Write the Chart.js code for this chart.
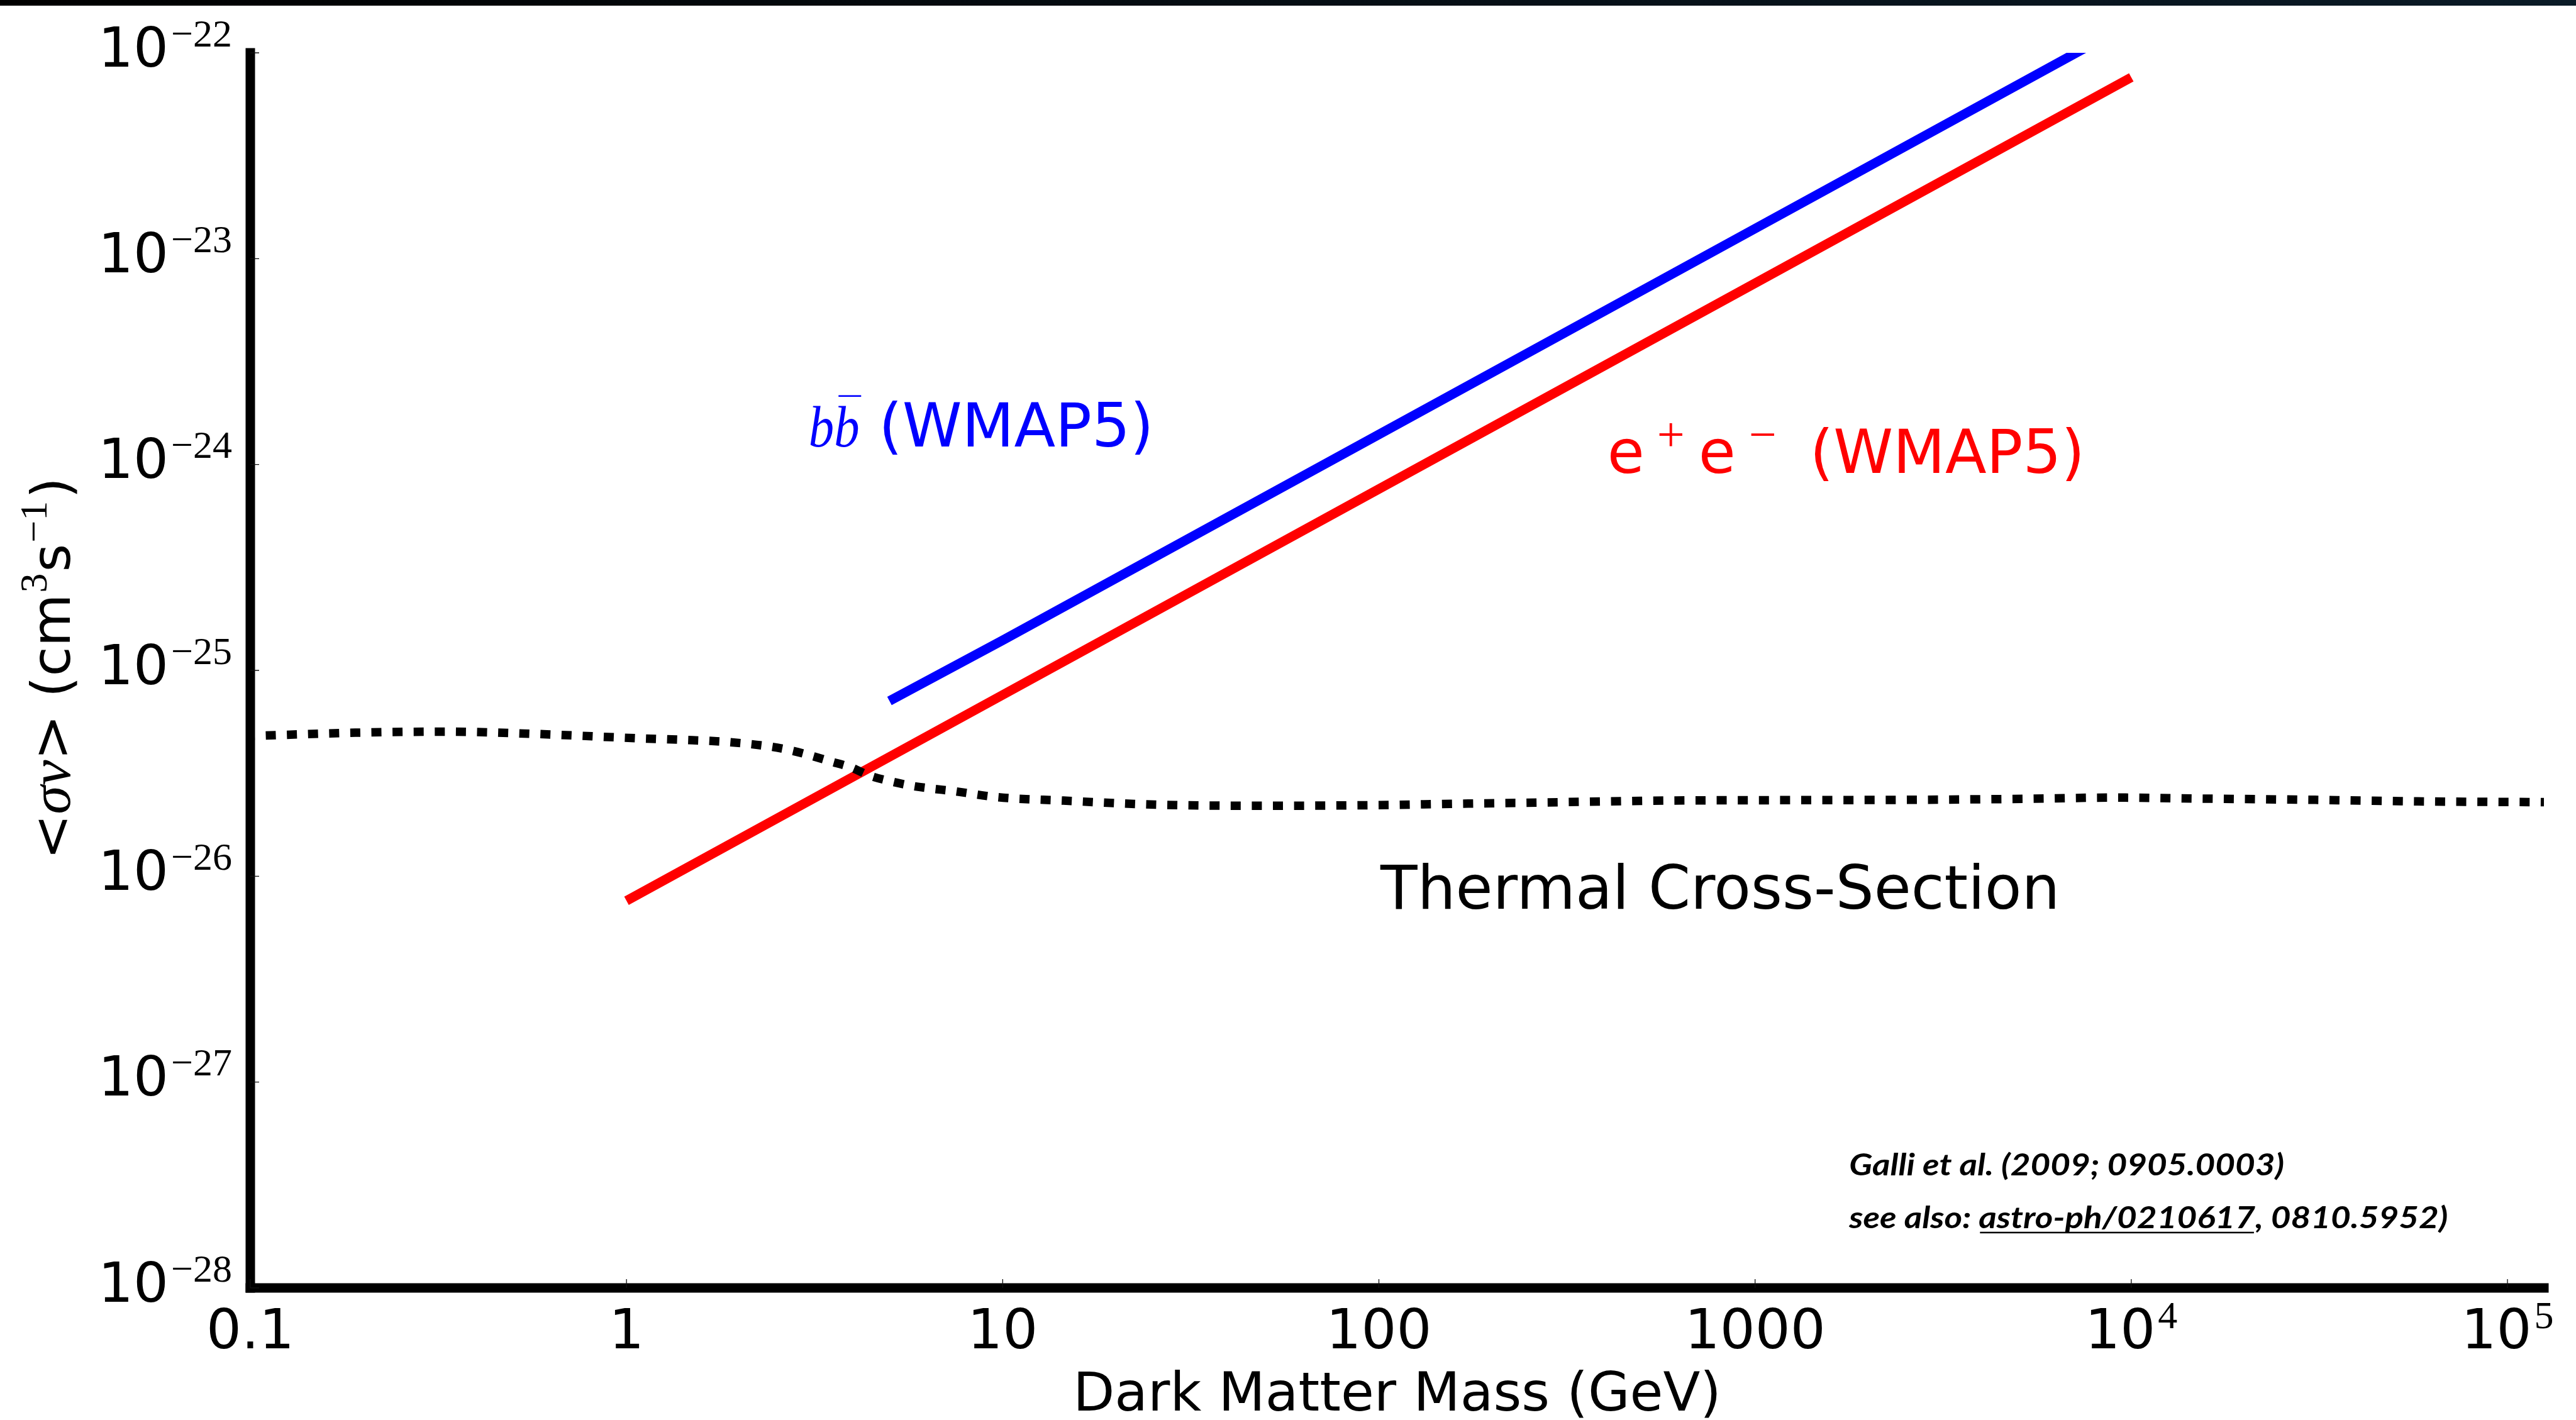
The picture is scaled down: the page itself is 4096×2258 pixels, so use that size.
<!DOCTYPE html>
<html>
<head>
<meta charset="utf-8">
<script src="https://cdn.jsdelivr.net/npm/chart.js@4/dist/chart.umd.min.js"></script>
<style>
  html, body { margin: 0; padding: 0; background: #fff; overflow: hidden; }
  canvas { display: block; }
</style>
</head>
<body>
<canvas id="c" width="4096" height="2258"></canvas>
<script>
// Annihilation cross-section limits from the CMB versus dark matter mass

// e+e- channel (WMAP5)
const eeMass  = [1, 10, 100, 1000, 10000];
const eeSigma = [7.6e-27, 7.6e-26, 7.6e-25, 7.6e-24, 7.6e-23];

// b b-bar channel (WMAP5)
const bbMass  = [5, 10, 100, 1000, 10000];
const bbSigma = [7.1e-26, 1.4e-25, 1.4e-24, 1.4e-23, 1.4e-22];

// thermal relic cross-section
const thermalMass  = [0.1, 0.19, 0.33, 0.56, 1.07, 1.4, 1.82, 2.38, 2.69, 3.05,
                      3.49, 3.96, 4.43, 5.0, 5.73, 6.54, 7.3, 9.7, 14.5, 24.8,
                      46, 87, 163, 306, 574, 950, 2500, 5500, 8800, 16400,
                      30800, 57700, 125000];
const thermalSigma = [4.80e-26, 4.98e-26, 5.04e-26, 4.92e-26, 4.68e-26, 4.60e-26, 4.50e-26, 4.28e-26, 4.11e-26, 3.88e-26,
                      3.61e-26, 3.37e-26, 3.08e-26, 2.90e-26, 2.75e-26, 2.66e-26, 2.60e-26, 2.42e-26, 2.33e-26, 2.23e-26,
                      2.20e-26, 2.21e-26, 2.25e-26, 2.29e-26, 2.33e-26, 2.34e-26, 2.35e-26, 2.38e-26, 2.41e-26, 2.38e-26,
                      2.35e-26, 2.31e-26, 2.29e-26];

// axis ticks ("base^exponent")
const xTickValues = [0.1, 1, 10, 100, 1000, 1e4, 1e5];
const xTickLabels = ['0.1', '1', '10', '100', '1000', '10^4', '10^5'];
const yTickValues = [1e-22, 1e-23, 1e-24, 1e-25, 1e-26, 1e-27, 1e-28];
const yTickLabels = ['10^\u221222', '10^\u221223', '10^\u221224', '10^\u221225', '10^\u221226', '10^\u221227', '10^\u221228'];

const SANS = '"DejaVu Sans"';
const SERIF = '"Liberation Serif"';

function toPoints(xs, ys) { return xs.map((v, i) => ({ x: v, y: ys[i] })); }

function runsWidth(ctx, runs) {
  let w = 0;
  runs.forEach(r => { ctx.font = r.font; w += (r.gap || 0) + ctx.measureText(r.text).width * (r.sx || 1); });
  return w;
}
function drawRuns(ctx, runs, x, y) {
  const pos = [];
  runs.forEach(r => {
    ctx.font = r.font;
    x += (r.gap || 0);
    const w = ctx.measureText(r.text).width * (r.sx || 1);
    ctx.save();
    ctx.translate(x, y - (r.rise || 0));
    ctx.scale(r.sx || 1, r.sy || 1);
    ctx.fillText(r.text, 0, 0);
    ctx.restore();
    pos.push([x, x + w]);
    x += w;
  });
  return pos;
}
function tickRuns(label) {
  const [base, exp] = label.split('^');
  const runs = [{ text: base, font: '88px ' + SANS }];
  if (exp) runs.push({ text: exp, font: '62px ' + SERIF, rise: 32, gap: 4 });
  return runs;
}

const decor = {
  id: 'decor',
  afterDatasetsDraw(chart) {
    const { ctx, chartArea: a, scales: { x, y } } = chart;
    ctx.save();
    // spines
    const sw = 15;
    ctx.fillStyle = '#000';
    ctx.fillRect(a.left - sw / 2, a.top - sw / 2, sw, a.bottom - a.top + sw);
    ctx.fillRect(a.left - sw / 2, a.bottom - sw / 2, a.right - a.left + sw, sw);
    // inward ticks
    ctx.strokeStyle = '#111';
    ctx.lineWidth = 1.3;
    ctx.beginPath();
    yTickValues.forEach(v => { const p = y.getPixelForValue(v); ctx.moveTo(a.left, p); ctx.lineTo(a.left + 14, p); });
    xTickValues.forEach(v => { const p = x.getPixelForValue(v); ctx.moveTo(p, a.bottom); ctx.lineTo(p, a.bottom - 14); });
    ctx.stroke();
    ctx.restore();
  },
  afterDraw(chart) {
    const { ctx, chartArea: a, scales: { x, y } } = chart;
    ctx.save();
    ctx.textBaseline = 'alphabetic';
    ctx.textAlign = 'left';

    // top band
    const g = ctx.createLinearGradient(0, 0, chart.width, 0);
    g.addColorStop(0, '#000000');
    g.addColorStop(1, '#0a1a26');
    ctx.fillStyle = g;
    ctx.fillRect(0, 0, chart.width, 9);

    ctx.fillStyle = '#000';
    // y tick labels
    yTickLabels.forEach((lab, i) => {
      const runs = tickRuns(lab);
      const w = runsWidth(ctx, runs);
      drawRuns(ctx, runs, a.left - 29 - w, y.getPixelForValue(yTickValues[i]) + 21.6);
    });
    // x tick labels
    xTickLabels.forEach((lab, i) => {
      const runs = tickRuns(lab);
      const w = runsWidth(ctx, runs);
      drawRuns(ctx, runs, x.getPixelForValue(xTickValues[i]) - w / 2, a.bottom + 96);
    });

    // x axis title
    const xt = [{ text: 'Dark Matter Mass (GeV)', font: '86px ' + SANS }];
    drawRuns(ctx, xt, (a.left + a.right) / 2 - runsWidth(ctx, xt) / 2, a.bottom + 195);

    // y axis title
    const S = 86;
    const yt = [
      { text: '<', font: S + 'px ' + SANS },
      { text: '\u03c3v', font: 'italic ' + (S + 6) + 'px ' + SERIF },
      { text: '>', font: S + 'px ' + SANS },
      { text: ' (cm', font: S + 'px ' + SANS },
      { text: '3', font: '62px ' + SERIF, rise: 37, gap: 2 },
      { text: 's', font: S + 'px ' + SANS, gap: 2 },
      { text: '\u22121', font: '62px ' + SERIF, rise: 37, gap: 2 },
      { text: ')', font: S + 'px ' + SANS, gap: 4 }
    ];
    ctx.save();
    ctx.translate(a.left - 287, (a.top + a.bottom) / 2 - 3);
    ctx.rotate(-Math.PI / 2);
    drawRuns(ctx, yt, -runsWidth(ctx, yt) / 2, 0);
    ctx.restore();

    // b b-bar label
    ctx.fillStyle = '#0000ff';
    let px = x.getPixelForValue(3.05), py = y.getPixelForValue(1.22e-24);
    const bb = [
      { text: 'b', font: 'italic 94px ' + SERIF, sx: 0.86 },
      { text: 'b', font: 'italic 94px ' + SERIF, sx: 0.86 },
      { text: ' (WMAP5)', font: '96px ' + SANS }
    ];
    const bpos = drawRuns(ctx, bb, px, py);
    ctx.fillRect(bpos[1][0] + 7, py - 82, 36, 2.6);

    // e+e- label
    ctx.fillStyle = '#ff0000';
    px = x.getPixelForValue(411); py = y.getPixelForValue(9.08e-25);
    ctx.font = '96px ' + SANS;
    ctx.fillText('e', px - 4, py);
    ctx.fillText('e', px + 141, py);
    ctx.fillText('(WMAP5)', px + 318, py);
    ctx.font = '78px ' + SERIF;
    ctx.textAlign = 'center';
    ctx.fillText('+', px + 97, py - 35);
    ctx.fillText('\u2212', px + 243, py - 35);
    ctx.textAlign = 'left';

    // thermal label
    ctx.fillStyle = '#000';
    ctx.font = '96px ' + SANS;
    ctx.fillText('Thermal Cross-Section', x.getPixelForValue(101), y.getPixelForValue(6.93e-27));

    // references
    const rf = 'italic bold 47px Lato';
    ctx.font = rf;
    const line1 = 'Galli et al. (2009; 0905.0003)';
    const sx = 692 / ctx.measureText(line1).width;
    px = x.getPixelForValue(1778); py = y.getPixelForValue(3.53e-28);
    drawRuns(ctx, [{ text: line1, font: rf, sx: sx }], px, py);
    const l2 = drawRuns(ctx, [
      { text: 'see also: ', font: rf, sx: sx },
      { text: 'astro-ph/0210617', font: rf, sx: sx },
      { text: ', 0810.5952)', font: rf, sx: sx }
    ], px, py + 84);
    ctx.fillRect(l2[1][0] + 2, py + 84 + 6, l2[1][1] - l2[1][0] - 4, 2.5);

    ctx.restore();
  }
};

new Chart(document.getElementById('c'), {
  type: 'line',
  data: {
    datasets: [
      {
        label: 'Thermal Cross-Section',
        data: toPoints(thermalMass, thermalSigma),
        borderColor: '#000',
        borderWidth: 13.5,
        borderDash: [16, 17.6],
        borderDashOffset: 9,
        borderCapStyle: 'butt',
        cubicInterpolationMode: 'monotone',
        pointRadius: 0,
        clip: 0
      },
      {
        label: 'e+e- (WMAP5)',
        data: toPoints(eeMass, eeSigma),
        borderColor: '#ff0000',
        borderWidth: 15,
        borderCapStyle: 'butt',
        pointRadius: 0,
        clip: 0
      },
      {
        label: 'bb (WMAP5)',
        data: toPoints(bbMass, bbSigma),
        borderColor: '#0000ff',
        borderWidth: 15,
        borderCapStyle: 'butt',
        pointRadius: 0,
        clip: 0
      }
    ]
  },
  options: {
    responsive: false,
    animation: false,
    devicePixelRatio: 1,
    layout: { padding: { left: 398, right: 51, top: 84, bottom: 210 } },
    plugins: { legend: { display: false }, tooltip: { enabled: false } },
    scales: {
      x: { type: 'logarithmic', min: 0.1, max: 1.25e5, display: false },
      y: { type: 'logarithmic', min: 1e-28, max: 1e-22, display: false }
    }
  },
  plugins: [decor]
});
</script>
</body>
</html>
